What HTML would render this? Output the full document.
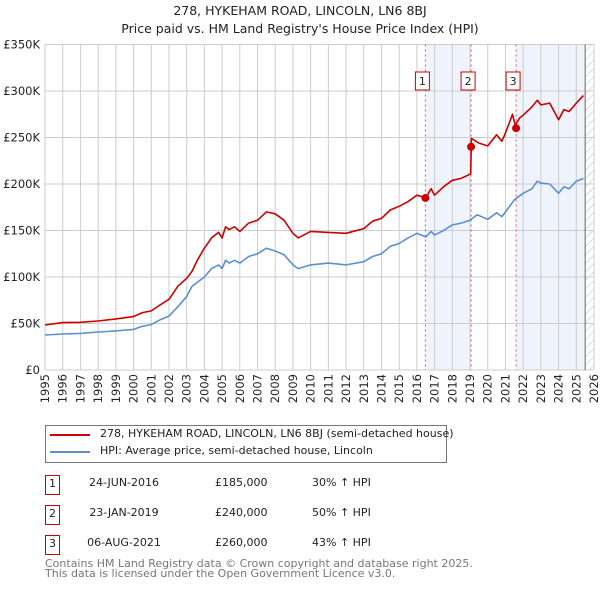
<!DOCTYPE html>
<html><head><meta charset="utf-8"><style>
body{margin:0;background:#fff;font-family:"DejaVu Sans","Liberation Sans",sans-serif;}
#w{position:relative;width:600px;height:590px;overflow:hidden}
.t{position:absolute;font-size:12px;color:#222;white-space:nowrap}
</style></head><body><div id="w">
<svg id="c" width="600" height="420" style="position:absolute;left:0;top:0"></svg>
<div class="t" style="left:0;width:600px;text-align:center;top:3px;font-size:12.5px">278, HYKEHAM ROAD, LINCOLN, LN6 8BJ</div>
<div class="t" style="left:0;width:600px;text-align:center;top:21px;font-size:12.5px">Price paid vs. HM Land Registry's House Price Index (HPI)</div>
<div style="position:absolute;left:45px;top:425px;width:400px;height:36px;border:1px solid #777"></div>
<div style="position:absolute;left:50px;top:434px;width:40px;height:2px;background:#cc0000"></div>
<div class="t" style="left:100px;top:427px;font-size:11px">278, HYKEHAM ROAD, LINCOLN, LN6 8BJ (semi-detached house)</div>
<div style="position:absolute;left:50px;top:451px;width:40px;height:2px;background:#5b8fd4"></div>
<div class="t" style="left:100px;top:444px;font-size:11px">HPI: Average price, semi-detached house, Lincoln</div>
<div id="tbl"></div>
<div class="t" style="left:45px;top:559px;font-size:11px;color:#777;line-height:10px">Contains HM Land Registry data © Crown copyright and database right 2025.<br>This data is licensed under the Open Government Licence v3.0.</div>
</div>
<script>
const hpiYears=[1995,1996,1997,1998,1999,2000,2000.5,2001,2001.5,2002,2002.5,2003,2003.3,2004,2004.4,2004.8,2005,2005.2,2005.4,2005.7,2006,2006.5,2007,2007.5,2008,2008.5,2009,2009.3,2010,2011,2012,2013,2013.5,2014,2014.5,2015,2015.5,2016,2016.5,2016.8,2017,2017.5,2018,2018.5,2019,2019.4,2020,2020.5,2020.8,2021,2021.5,2022,2022.5,2022.8,2023,2023.5,2024,2024.3,2024.6,2025,2025.4];
const hpiValues=[37.6,38.7,39.4,40.9,42,43.7,47,48.8,54,58,68,79,90,100,109,113,109,118,115,118,115,122,125,131,128,124,113,109,113,115,113,116.5,122,125,133,136,142,147,143,149,145,150,156,158,161,167,162,169,165,170,183,190,195,203,201,200,190,197,195,203,206];
const priceYears=[1995,1996,1997,1998,1999,2000,2000.5,2001,2001.5,2002,2002.5,2003,2003.3,2003.6,2004,2004.4,2004.8,2005,2005.2,2005.4,2005.7,2006,2006.5,2007,2007.5,2008,2008.5,2009,2009.3,2010,2011,2012,2013,2013.5,2014,2014.5,2015,2015.5,2016,2016.5,2016.8,2017,2017.5,2018,2018.5,2019.04,2019.08,2019.5,2020,2020.5,2020.8,2021,2021.4,2021.55,2021.8,2022,2022.5,2022.8,2023,2023.5,2024,2024.3,2024.6,2025,2025.4];
const priceValues=[48.4,51,51.3,52.7,55,57.4,61.7,63.5,70,76,90,98.6,106,118,131,142,148,142,154,151,154,149,158,161,170,168,161,147,142,149,148,147,152,160,163,172,176,181,188,185,195,188,197,204,206,211,249,244,241,253,246,255,275,263,271,274,283,290,285,287,269,280,278,287,295];
const saleLabels=["1","2","3"];
const saleYears=[2016.48,2019.06,2021.6];
const salePrices=[185,240,260];
const saleDates=["24-JUN-2016","23-JAN-2019","06-AUG-2021"];
const salePriceText=["£185,000","£240,000","£260,000"];
const saleHpiText=["30% ↑ HPI","50% ↑ HPI","43% ↑ HPI"];
const yTicks=[0,50,100,150,200,250,300,350];
const yTickLabels=["£0","£50K","£100K","£150K","£200K","£250K","£300K","£350K"];

const X0=45,X1=594,Y0=370,Y1=44.5;
const xs=y=>X0+(y-1995)/(2026-1995)*(X1-X0);
const ys=v=>Y0-v/350*(Y0-Y1);
const svg=document.getElementById('c');const NS='http://www.w3.org/2000/svg';
function mk(t,a,p){const e=document.createElementNS(NS,t);for(const k in a)e.setAttribute(k,a[k]);(p||svg).appendChild(e);return e;}
const defs=mk('defs',{});
const pat=mk('pattern',{id:'h',width:6,height:6,patternUnits:'userSpaceOnUse',patternTransform:'rotate(45)'},defs);
mk('line',{x1:0,y1:0,x2:0,y2:6,stroke:'#bbb','stroke-width':1},pat);
let r=mk('rect',{x:xs(saleYears[0]),y:Y1,width:xs(saleYears[1])-xs(saleYears[0]),height:Y0-Y1,fill:'#eef3fc'});

r=mk('rect',{x:xs(saleYears[2]),y:Y1,width:xs(2025.5)-xs(saleYears[2]),height:Y0-Y1,fill:'#eef3fc'});

r=mk('rect',{x:xs(2025.5),y:Y1,width:X1-xs(2025.5),height:Y0-Y1,fill:'url(#h)'});

for(let y=1995;y<=2026;y++){const l=mk('line',{x1:xs(y),x2:xs(y),y1:Y1,y2:Y0,stroke:'#ccc','stroke-width':1});

const t=mk('text',{x:0,y:0,transform:`translate(${xs(y)+4},${Y0+4}) rotate(-90)`,'text-anchor':'end','font-size':11.5,fill:'#222','font-family':'DejaVu Sans,sans-serif'});t.textContent=y;
}
yTicks.forEach((v,i)=>{const l=mk('line',{x1:X0,x2:X1,y1:ys(v),y2:ys(v),stroke:'#ccc','stroke-width':1});

const t=mk('text',{x:X0-5,y:ys(v)+4,'text-anchor':'end','font-size':11.5,fill:'#222','font-family':'DejaVu Sans,sans-serif'});t.textContent=yTickLabels[i];
});
let l=mk('line',{x1:xs(2025.5),x2:xs(2025.5),y1:Y1,y2:Y0,stroke:'#666','stroke-width':1});

saleYears.forEach((y,i)=>{const d=mk('line',{x1:xs(y),x2:xs(y),y1:Y1,y2:Y0,stroke:'#e55','stroke-width':1,'stroke-dasharray':'2,3'});
});
function path(X,V,c,n){const p=mk('path',{d:X.map((x,i)=>(i?'L':'M')+xs(x).toFixed(1)+','+ys(V[i]).toFixed(1)).join(''),fill:'none',stroke:c,'stroke-width':1.6,'stroke-linejoin':'round'});
}
path(hpiYears,hpiValues,'#5b8fd4','hpi-line');
path(priceYears,priceValues,'#cc0000','price-line');
saleYears.forEach((y,i)=>{const c=mk('circle',{cx:xs(y),cy:ys(salePrices[i]),r:4,fill:'#cc0000'});

const bx=xs(y)-3;const b=mk('rect',{x:bx-7,y:72,width:14,height:18,fill:'#fff',stroke:'#cc0000','stroke-width':1});

const t=mk('text',{x:bx,y:85,'text-anchor':'middle','font-size':11,fill:'#222','font-family':'DejaVu Sans,sans-serif'});t.textContent=saleLabels[i];
});
const tbl=document.getElementById('tbl');const W=document.getElementById('w');
saleLabels.forEach((s,i)=>{const top=476+i*30;
const add=(html,css,n)=>{const d=document.createElement('div');d.className='t';d.style.cssText=css;d.textContent=html;


W.appendChild(d);};
add(s,`left:45px;top:${top-1}px;width:13px;height:18px;border:1px solid #cc0000;text-indent:3px;line-height:16px;font-size:11px`,'table-num-'+(i+1));
add(saleDates[i],`left:74px;width:100px;text-align:center;top:${top}px;font-size:11px`,'table-date-'+(i+1));
add(salePriceText[i],`left:215px;top:${top}px;font-size:11px`,'table-price-'+(i+1));
add(saleHpiText[i],`left:312px;top:${top}px;font-size:11px`,'table-hpi-'+(i+1));});
</script></body></html>
